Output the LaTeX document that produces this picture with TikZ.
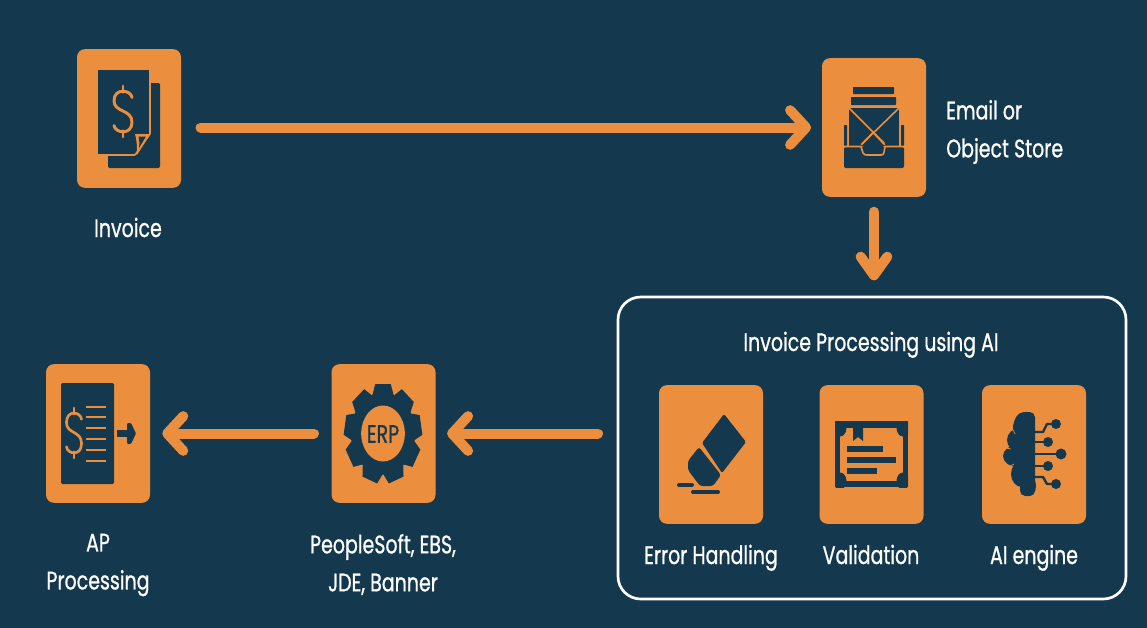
\documentclass[tikz,border=0pt]{standalone}
\usepackage{fontspec}
\setmainfont{Poppins}[FakeStretch=0.75,FakeBold=0.8]
\usetikzlibrary{arrows.meta}
\definecolor{navy}{HTML}{14394F}
\definecolor{amber}{HTML}{EB8F3E}
\tikzset{
  iconbox/.style={fill=amber,minimum width=78pt,minimum height=104pt,rounded corners=6pt,inner sep=0pt},
  frameb/.style={draw=white,line width=2pt,rounded corners=17pt,minimum width=381pt,minimum height=226.5pt,inner sep=0pt},
  flow/.style={draw=amber,line width=7.5pt,line cap=round,-{Straight Barb[round,length=12pt,width=26pt]}},
  flowv/.style={draw=amber,line width=7.5pt,line cap=round,-{Straight Barb[round,length=14pt,width=20pt]}},
  lbl/.style={text=white,font=\fontsize{19}{28.5}\selectfont,align=center,inner sep=0pt},
  ink/.style={fill=navy,draw=none},
  amb/.style={draw=amber,line cap=round,line join=round},
  inkl/.style={draw=navy,line cap=round,line join=round}
}
\newcommand{\dollarmark}[5]{%
  \begin{scope}[shift={(#1,#2)},x=#3*0.75pt,y=-#4*0.75pt]
  \draw[amb,line width=#5] (1,-.55) .. controls (.9,-.85) and (-1,-.95) .. (-1,-.42)
    .. controls (-1,.05) and (1,-.1) .. (1,.42) .. controls (1,.95) and (-.9,.85) .. (-1,.55);
  \draw[amb,line width=#5] (0,-1) -- (0,-.75) (0,.75) -- (0,1);
  \end{scope}}
\begin{document}
\begin{tikzpicture}[x=0.75pt,y=-0.75pt]
\useasboundingbox (0,0) rectangle (1147,628);
\fill[navy] (0,0) rectangle (1147,628);
% boxes
\node[iconbox] (invoice) at (129,118.5) {};
\node[iconbox] (store) at (874,127.5) {};
\node[iconbox] (err) at (711,454.5) {};
\node[iconbox] (valid) at (871.5,454.5) {};
\node[iconbox] (ai) at (1034,454.5) {};
\node[iconbox] (erp) at (383.5,433.5) {};
\node[iconbox] (ap) at (98,433.5) {};
\node[frameb] (frame) at (872,448) {};
% connectors
\draw[flow,shorten <=14.5pt,shorten >=8pt] (invoice.east |- store.west) -- (store.west);
\draw[flowv,shorten <=11pt,shorten >=11.5pt] (store.south) -- (frame.north -| store.south);
\draw[flow,shorten <=14pt,shorten >=8.5pt] (frame.west |- erp.east) -- (erp.east);
\draw[flow,shorten <=13pt,shorten >=9pt] (erp.west) -- (ap.east);
% labels
\node[lbl] (l1) at (128,227.5) {Invoice};
\node[lbl,anchor=west] (l2) at (946,132) {\parbox{120pt}{Email or\\Object Store}};
\node[lbl,anchor=base] (l3) at (871,351) {Invoice Processing using AI};
\node[lbl,anchor=base] (l4) at (711,564) {Error Handling};
\node[lbl,anchor=base] (l5) at (871,564) {Validation};
\node[lbl,anchor=base] (l6) at (1034,564) {AI engine};
\node[lbl] (l7) at (383,564.5) {PeopleSoft, EBS,\\JDE, Banner};
\node[lbl] (l8) at (98,565) {AP\\Processing};
% invoice icon
\fill[ink,rounded corners=1pt] (108,83) rectangle (160,168);
\fill[ink,draw=amber,line width=1.2pt,rounded corners=.5pt] (97,69) -- (150,69) -- (150,134) -- (135,155) -- (97,155) -- cycle;
\fill[amber] (135,134) -- (150,134) -- (137,155) .. controls (137,148) and (137,140) .. (135,134) -- cycle;
\fill[ink] (138.5,136.5) -- (146,136.5) -- (139,148) .. controls (139.5,144) and (139.5,140) .. (138.5,136.5) -- cycle;
\dollarmark{123}{111.5}{9}{25.5}{2.2pt}
% store icon
\fill[ink,rounded corners=.5pt] (853,87) rectangle (894,94);
\fill[ink,rounded corners=.5pt] (851,97) rectangle (896,105);
\fill[ink] (849,108) -- (899,108) -- (899,146) -- (849,146) -- cycle;
\fill[ink,rounded corners=.5pt] (844,125) rectangle (847,146);
\fill[ink,rounded corners=.5pt] (901,125) rectangle (904,146);
\fill[ink,rounded corners=1pt] (844,147) rectangle (904,168);
\draw[amb,line width=1.2pt] (849,108) -- (884,143);
\draw[amb,line width=1.2pt] (899,108) -- (862,144);
\draw[amb,line width=1.2pt,fill=navy] (844,146.5) -- (861,146.5) -- (863,153) .. controls (864,155) and (866,155) .. (867,155) -- (881,155) .. controls (883,155) and (884,154) .. (884,152) -- (885,146.5) -- (904,146.5);
\fill[navy] (873,134.5) -- (883,144) -- (883,152.5) -- (864.5,152.5) -- (863,145) -- cycle;
\draw[amb,line width=1.2pt] (873,132.5) -- (884.5,144.5) (873,132.5) -- (861.5,144.5);
% eraser icon
\fill[ink,rounded corners=1pt] (724,414) -- (746,442) -- (722,473) -- (702,443) -- cycle;
\fill[ink,rounded corners=2pt] (699,447) -- (721,475) -- (713,486) -- (700,486) -- (688,470) -- (688,461) -- cycle;
\draw[inkl,line width=3pt] (679,485) -- (692,485) (693,492) -- (718,492);
% validation icon
\fill[navy] (835,421) rectangle (908,487);
\fill[amber] (840,428) rectangle (903,481);
\begin{scope}
  \clip (835,421) rectangle (908,487);
  \foreach \cx/\cy in {840/428,903/428,840/481,903/481}{\fill[navy] (\cx,\cy) ellipse (6.5 and 8.5);}
\end{scope}
\fill[navy] (853,426) -- (863,426) -- (863,441) -- (858,437) -- (853,441) -- cycle;
\fill[navy] (847,446) rectangle (883,451.5);
\fill[navy] (847,457) rectangle (896,463);
\fill[navy] (847,468) rectangle (877,474);
% AI brain icon
\fill[ink,rounded corners=4pt] (1020,412) rectangle (1035,496);
\fill[ink] (1024,429) ellipse (11 and 17);
\fill[ink] (1020,440) ellipse (13 and 12);
\fill[ink] (1018,456) ellipse (15 and 11);
\fill[ink] (1022,474) ellipse (11 and 13);
\fill[ink] (1029,486) ellipse (7 and 10);
\draw[amber,line width=.5pt] (1012,428) -- (1015,434);
\draw[amber,line width=.5pt] (1004,446) .. controls (1006,448) and (1008,449) .. (1011,449);
\draw[amber,line width=.5pt] (1010,466) -- (1014,464);
\draw[inkl,line width=1.8pt] (1035,432) -- (1043,432) -- (1047,424) -- (1056,424);
\draw[inkl,line width=1.8pt] (1035,442) -- (1048,442);
\draw[inkl,line width=1.8pt] (1035,454) -- (1061,454);
\draw[inkl,line width=1.8pt] (1035,466) -- (1048,466);
\draw[inkl,line width=1.8pt] (1035,477) -- (1043,477) -- (1047,484) -- (1056,484);
\foreach \cx/\cy/\rr in {1056/424/5,1048/442/5,1061/454/5.5,1048/466/5,1056/484/5}{\fill[navy] (\cx,\cy) circle (\rr);}
% AP icon
\fill[ink,rounded corners=1pt] (61,383) rectangle (114,484);
\foreach \ly in {407,417,428,439,450,461}{\draw[amber,line width=1.9pt] (86,\ly) -- (106,\ly);}
\dollarmark{74}{433}{7.5}{25}{2pt}
\fill[navy] (117,430) rectangle (128,437);
\fill[navy,rounded corners=.8pt] (127,423) -- (131,423) -- (136,433.5) -- (131,444) -- (127,444) -- cycle;
% ERP gear icon
\begin{scope}[shift={(383,433.5)},xscale=.78]
  \fill[navy] (0,0) circle (41);
  \foreach \ang in {90,130,170,210,250,290,330,370,410}{
    \begin{scope}[rotate=\ang]
      \fill[navy] (34,-15) -- (49.5,-10) -- (49.5,10) -- (34,15) -- cycle;
    \end{scope}}
  \fill[amber] (0,0) circle (28);
\end{scope}
\node[text=navy,font=\fontsize{19}{22}\selectfont,inner sep=0pt] (erpt) at (383,434) {ERP};
\end{tikzpicture}
\end{document}
